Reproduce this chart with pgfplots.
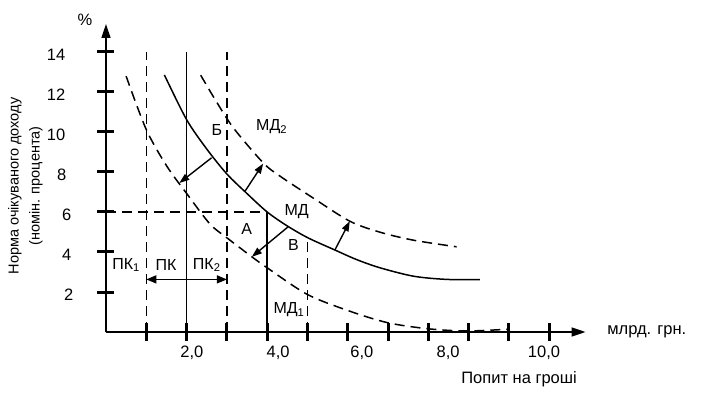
\documentclass[border=0pt]{standalone}
\usepackage{fontspec}
\setmainfont{Liberation Sans}
\usepackage{pgfplots}
\pgfplotsset{compat=1.18}
\usetikzlibrary{arrows.meta}
\newcommand\fa{\fontsize{16.5bp}{19bp}\selectfont}
\newcommand\fb{\fontsize{14.5bp}{21bp}\selectfont}
\newcommand\fc{\fontsize{16bp}{19bp}\selectfont}
\begin{document}
\begin{tikzpicture}
\begin{axis}[
  x=40.3bp, y=20bp,
  xmin=0, xmax=11.9, ymin=0, ymax=15.4,
  axis lines=left,
  axis line style={line width=1.5bp, -{Triangle[length=14bp,width=9bp]}},
  clip=false, no markers,
  xtick={1,...,11}, xticklabels={},
  ytick={2,4,...,14},
  yticklabels={{2\hspace*{-8bp}},{4\hspace*{-6bp}},{6\hspace*{-6bp}},{8\hspace*{-1bp}},10,12,14},
  tick align=center,
  major tick length=17bp,
  tick style={line width=3bp, black},
  extra x ticks={2.13,4.27,6.35,8.49,10.87},
  extra x tick labels={{2,0},{4,0},{6,0},{8,0},{10,0}},
  extra x tick style={major tick length=0pt, tick style={draw=none}},
  xticklabel style={font=\fa, anchor=center, inner sep=0pt, yshift=-21bp},
  yticklabel style={font=\fa, anchor=east, inner sep=0pt, xshift=-32bp, yshift=-3bp},
  /pgf/number format/assume math mode=true,
]
% bounding box of the picture
\path (axis cs:-2.630,16.6) rectangle (axis cs:15.087,-3.4);

\tikzset{dsh/.style={line width=1.5bp, dash pattern=on 10bp off 6bp},
         sld/.style={line width=1.5bp},
         arr/.style={line width=1.4bp, -{Triangle[length=10bp,width=7bp]}}}

% vertical and horizontal guide lines
\addplot[dsh] coordinates {(1,0) (1,14)};
\addplot[sld] coordinates {(2,0) (2,14)};
\addplot[dsh] coordinates {(3,0) (3,14)};
\addplot[dsh] coordinates {(0,6) (4,6)};
\addplot[sld] coordinates {(4,0) (4,6)};
\addplot[dsh] coordinates {(5,0) (5,4.70)};

% MD1 (dashed)
\addplot[dsh, smooth] coordinates {
 (0.50,12.79) (1.0,10.12) (1.51,8.29) (2.02,6.875) (2.58,5.40) (3.0,4.71)
 (3.62,3.76) (4.0,3.21) (5.0,1.875) (6.05,1.04) (7.0,0.46) (8.0,0.16)
 (8.95,0.05) (9.98,0.14)};

% MD (solid)
\addplot[sld, smooth] coordinates {
 (1.45,12.85) (2.0,10.62) (2.5,9.15) (3.0,7.9) (3.5,6.92) (4.0,6.0)
 (4.5,5.3) (5.02,4.70) (5.68,4.10) (6.22,3.62) (6.8,3.21) (7.63,2.79)
 (8.45,2.63) (9.28,2.62)};

% MD2 (dashed)
\addplot[dsh, smooth] coordinates {
 (2.35,12.84) (2.7,11.65) (3.16,10.21) (3.9,8.46) (4.32,7.79) (5.14,6.70)
 (6.05,5.54) (6.8,4.99) (7.63,4.59) (8.7,4.26)};

% shift arrows
\addplot[arr] coordinates {(2.62,8.71) (1.82,7.45)};
\addplot[arr] coordinates {(3.45,7.04) (3.90,8.42)};
\addplot[arr] coordinates {(4.52,5.26) (3.62,3.76)};
\addplot[arr] coordinates {(5.68,4.10) (6.05,5.54)};
% double arrow
\addplot[line width=1.4bp, {Triangle[length=10bp,width=8bp]}-{Triangle[length=10bp,width=8bp]}]
  coordinates {(1,2.63) (3,2.63)};

% labels
\node[font=\fc] at (axis cs:2.75,10.12) {Б};
\node[font=\fc] at (axis cs:4.11,10.27) {МД\textsubscript{2}};
\node[font=\fc] at (axis cs:4.73,6.02) {МД};
\node[font=\fc] at (axis cs:3.49,5.14) {А};
\node[font=\fc] at (axis cs:4.65,4.35) {В};
\node[font=\fc] at (axis cs:4.54,1.10) {МД\textsubscript{1}};
\node[font=\fc] at (axis cs:0.50,3.35) {ПК\textsubscript{1}};
\node[font=\fc] at (axis cs:1.49,3.35) {ПК};
\node[font=\fc] at (axis cs:2.50,3.35) {ПК\textsubscript{2}};

\node[font=\fa] at (axis cs:-0.52,15.6) {\%};
\node[font=\fa] at (axis cs:13.42,0.02) {млрд. грн.};
\node[font=\fa] at (axis cs:10.25,-2.35) {Попит на гроші};
\node[font=\fb, rotate=90, align=center] at (axis cs:-2.0,7.3)
  {Норма очікуваного доходу\\(номін. процента)};
\end{axis}
\end{tikzpicture}
\end{document}
